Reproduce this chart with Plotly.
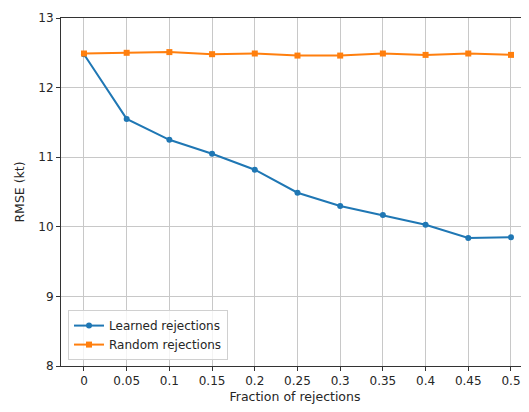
import plotly.graph_objects as go

fractions = [0, 0.05, 0.1, 0.15, 0.2, 0.25, 0.3, 0.35, 0.4, 0.45, 0.5]
tick_labels = ["0", "0.05", "0.1", "0.15", "0.2", "0.25", "0.3", "0.35", "0.4", "0.45", "0.5"]
learned = [12.48, 11.55, 11.25, 11.05, 10.82, 10.49, 10.30, 10.17, 10.03, 9.84, 9.85]
random_rej = [12.49, 12.50, 12.51, 12.48, 12.49, 12.46, 12.46, 12.49, 12.47, 12.49, 12.47]

fig = go.Figure()
fig.add_trace(go.Scatter(x=fractions, y=learned, mode="lines+markers", name="Learned rejections",
                         line=dict(color="#1f77b4", width=2),
                         marker=dict(symbol="circle", size=6, color="#1f77b4")))
fig.add_trace(go.Scatter(x=fractions, y=random_rej, mode="lines+markers", name="Random rejections",
                         line=dict(color="#ff7f0e", width=2),
                         marker=dict(symbol="square", size=6, color="#ff7f0e")))

tick_font = dict(family="DejaVu Sans", size=12, color="#262626")
title_font = dict(family="DejaVu Sans", size=12.5, color="#262626")
fig.update_layout(
    width=521, height=404,
    margin=dict(l=53, r=0, t=10, b=46, autoexpand=False),
    paper_bgcolor="white", plot_bgcolor="white",
    font=tick_font,
    showlegend=True,
    legend=dict(x=0.015, y=0.017, xanchor="left", yanchor="bottom",
                bgcolor="rgba(255,255,255,0.8)", bordercolor="#d0d0d0", borderwidth=1,
                font=dict(family="DejaVu Sans", size=12, color="#262626"),
                itemwidth=30, tracegroupgap=0),
)
fig.update_xaxes(range=[-0.0269, 0.5211], tickvals=fractions, ticktext=tick_labels,
                 showgrid=True, gridcolor="#c8c8c8", gridwidth=1,
                 showline=True, linecolor="#333", linewidth=1, mirror=True,
                 ticks="outside", ticklen=4, tickcolor="#333", tickfont=tick_font,
                 zeroline=False, automargin=False,
                 title=dict(text="Fraction of rejections", font=title_font, standoff=4))
fig.update_yaxes(range=[8, 13], tickvals=[8, 9, 10, 11, 12, 13],
                 showgrid=True, gridcolor="#c8c8c8", gridwidth=1,
                 showline=True, linecolor="#333", linewidth=1,
                 ticks="outside", ticklen=4, tickcolor="#333", tickfont=tick_font,
                 zeroline=False, automargin=False,
                 title=dict(text="RMSE (kt)", font=title_font, standoff=10))

fig.write_html("out.html")
